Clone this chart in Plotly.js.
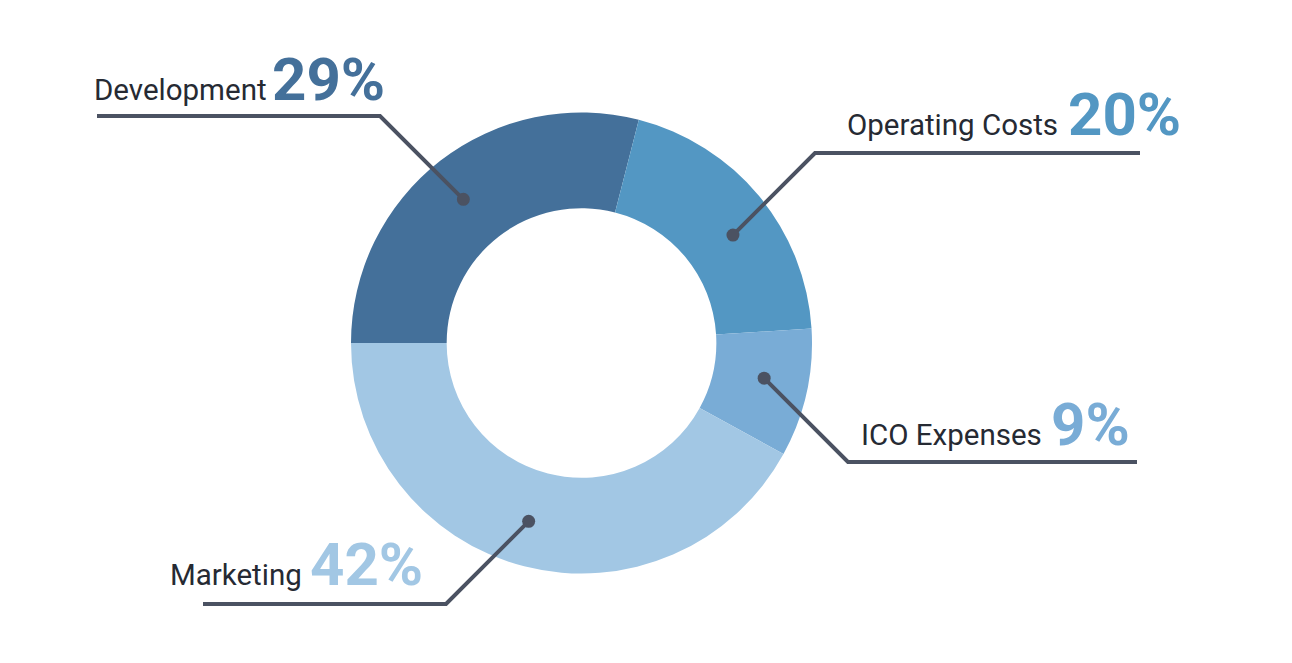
<!DOCTYPE html>
<html>
<head>
<meta charset="utf-8">
<script src="https://cdn.plot.ly/plotly-3.0.1.min.js"></script>
<style>
  html, body { margin: 0; padding: 0; background: #ffffff; }
  #chart { width: 1292px; height: 663px; }
</style>
</head>
<body>
<div id="chart"></div>
<script>
// ---- data ----
const categories = ["Development", "Operating Costs", "ICO Expenses", "Marketing"];
const shares = [29, 20, 9, 42];
const sliceColors = ["#44709a", "#5397c3", "#79acd6", "#a2c7e4"];

// ---- layout / styling (pixel geometry of the figure) ----
const W = 1292, H = 663;
const cx = 581.5, cy = 343, R = 230.5, holeFrac = 0.585;
const dotR = 186;
const lineColor = "#4b5262";
const textColor = "#262a33";
// per-category leader geometry: y of the horizontal rule, elbow x, far end x, label x, percent x
const leaderY   = [116, 153, 462, 604];
const elbowX    = [380, 815, 848, 446];
const endX      = [97, 1140, 1137, 203];
const labelX    = [92, 845, 859, 168];
const pctX      = [270, 1066, 1049, 308];
const labelBase = [100, 135, 445, 585];

const total = shares.reduce((a, b) => a + b, 0);

const traces = [{
  type: "pie",
  labels: categories,
  values: shares,
  hole: holeFrac,
  sort: false,
  direction: "clockwise",
  rotation: -90,
  textinfo: "none",
  hoverinfo: "label+percent",
  marker: { colors: sliceColors, line: { color: "#ffffff", width: 0 } },
  showlegend: false,
  domain: {
    x: [(cx - R) / W, (cx + R) / W],
    y: [1 - (cy + R) / H, 1 - (cy - R) / H]
  }
}];

const annotations = [];
const shapes = [];
let cum = 0;
const dotRad = 6.5;
categories.forEach((cat, i) => {
  const mid = (cum + shares[i] / 2) / total;
  cum += shares[i];
  const theta = Math.PI - mid * 2 * Math.PI; // slice mid-angle: start at 9 o'clock, clockwise
  // leader runs at 45 degrees from the elbow toward the slice, ending on the ring's mid circle
  const sx = Math.cos(theta) >= 0 ? -1 : 1;   // direction from elbow back toward the ring (x)
  const sy = Math.sin(theta) >= 0 ? 1 : -1;   // (y, screen coords)
  const ex = elbowX[i] - cx, ey = leaderY[i] - cy;
  // solve |(ex + sx t, ey + sy t)| = dotR
  const a = 2, b = 2 * (ex * sx + ey * sy), c = ex * ex + ey * ey - dotR * dotR;
  const t = (-b - Math.sqrt(b * b - 4 * a * c)) / (2 * a);
  const dx = elbowX[i] + sx * t;
  const dy = leaderY[i] + sy * t;
  shapes.push({
    type: "path", xref: "x", yref: "y", layer: "above",
    path: "M" + dx + "," + dy + " L" + elbowX[i] + "," + leaderY[i] + " L" + endX[i] + "," + leaderY[i],
    line: { color: lineColor, width: 4 }
  });
  shapes.push({
    type: "circle", xref: "x", yref: "y", layer: "above",
    x0: dx - dotRad, x1: dx + dotRad, y0: dy - dotRad, y1: dy + dotRad,
    fillcolor: lineColor, line: { width: 0 }
  });
  const fsL = 29.5, fsP = 60;
  annotations.push({
    xref: "x", yref: "y", x: labelX[i], y: labelBase[i] - 0.34 * fsL,
    xanchor: "left", yanchor: "middle", showarrow: false,
    text: cat, font: { family: "Roboto", size: fsL, color: textColor }
  });
  annotations.push({
    xref: "x", yref: "y", x: pctX[i], y: labelBase[i] - 0.34 * fsP,
    xanchor: "left", yanchor: "middle", showarrow: false,
    text: "<b>" + shares[i] + "%</b>",
    font: { family: "Roboto", size: fsP, color: sliceColors[i] }
  });
});

const layout = {
  width: W, height: H,
  margin: { l: 0, r: 0, t: 0, b: 0, pad: 0 },
  paper_bgcolor: "#ffffff", plot_bgcolor: "rgba(0,0,0,0)",
  showlegend: false,
  xaxis: { range: [0, W], domain: [0, 1], visible: false, fixedrange: true },
  yaxis: { range: [H, 0], domain: [0, 1], visible: false, fixedrange: true },
  shapes: shapes,
  annotations: annotations
};

Plotly.newPlot("chart", traces, layout, { displayModeBar: false, staticPlot: true });
</script>
</body>
</html>
